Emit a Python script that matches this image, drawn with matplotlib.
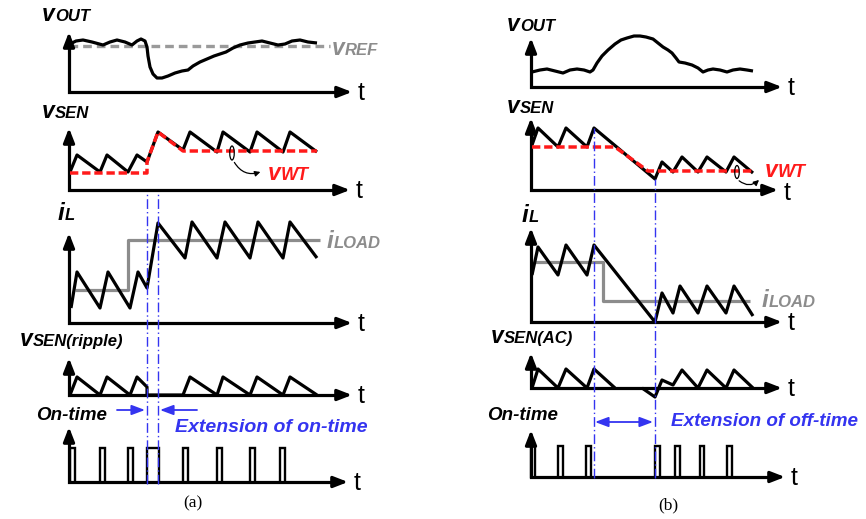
import numpy as np
import matplotlib
matplotlib.use('Agg')
import matplotlib.pyplot as plt
from matplotlib.transforms import Affine2D
from matplotlib.patches import Ellipse, FancyArrowPatch

# ---------------- data (time offset, amplitude) per panel ----------------
# (a) load step-up
a_vout_t = [1, 7, 14, 23, 34, 41, 48, 56, 63, 68, 72, 76, 78, 79, 81, 84, 88, 93, 99, 106,
            113, 119, 124, 131, 138, 145, 151, 157, 164, 171, 179, 186, 193, 201, 209, 216, 223, 231, 239, 248]
a_vout_v = [48, 51, 52, 50, 47, 50, 52, 50, 47, 51, 53, 51, 45, 36, 25, 18, 14, 14, 16, 19,
            21, 22, 26, 30, 33, 36, 38, 40, 44, 47, 49, 50, 51, 49, 47, 48, 51, 52, 50, 49]
a_vref_t = [0, 261]
a_vref_v = [46, 46]

a_vsen_t = [1, 8, 31, 38, 59, 68, 78, 89, 114, 121, 148, 154, 181, 188, 214, 221, 248]
a_vsen_v = [18, 35, 18, 35, 18, 35, 28, 58, 40, 58, 38, 58, 38, 58, 38, 58, 38]
a_vwt_t = [1, 78, 78, 89, 114, 248]
a_vwt_v = [17, 17, 28, 58, 39, 39]

a_iload_t = [6, 59, 59, 251]
a_iload_v = [33, 33, 83, 83]
a_il_t = [2, 8, 31, 39, 61, 69, 78, 89, 116, 123, 148, 156, 181, 189, 214, 221, 248]
a_il_v = [15, 51, 15, 51, 15, 51, 35, 100, 65, 101, 65, 101, 65, 101, 65, 101, 65]

a_rip_t = [1, 8, 31, 38, 61, 68, 78, 78, 114, 121, 148, 154, 181, 188, 214, 221, 248]
a_rip_v = [0, 18, 0, 18, 0, 18, 8, 0, 0, 18, 0, 18, 0, 18, 0, 18, 0]

a_on_start = [1, 31, 59, 78, 114, 148, 181, 211]
a_on_end = [6, 36, 64, 90, 119, 153, 186, 216]
a_on_h = 34
a_marks = [78, 89]

# (b) load step-down
b_vout_t = [1, 9, 16, 24, 32, 39, 46, 53, 59, 62, 66, 71, 77, 84, 90, 96, 103, 109, 115, 122,
            127, 132, 137, 141, 145, 148, 154, 161, 167, 172, 177, 182, 189, 196, 202, 209, 216, 222]
b_vout_v = [15, 17, 18, 16, 14, 17, 18, 17, 15, 17, 24, 31, 37, 43, 47, 49, 51, 51, 50, 48,
            44, 40, 37, 34, 29, 25, 24, 22, 19, 15, 17, 18, 17, 15, 17, 18, 17, 16]

b_vsen_t = [1, 7, 27, 35, 56, 63, 124, 131, 142, 151, 167, 176, 195, 203, 222]
b_vsen_v = [45, 62, 43, 62, 43, 62, 11, 28, 18, 33, 18, 33, 18, 33, 17]
b_vwt_t = [1, 84, 117, 222]
b_vwt_v = [43, 43, 19, 19]

b_iload_t = [4, 72, 72, 219]
b_iload_v = [60, 60, 21, 21]
b_il_t = [1, 7, 27, 35, 56, 63, 124, 131, 142, 149, 167, 176, 195, 203, 222]
b_il_v = [47, 75, 47, 77, 47, 77, 0, 29, 9, 36, 9, 36, 9, 36, 6]

b_ac1_t = [1, 7, 27, 35, 56, 63, 84]
b_ac1_v = [0, 19, 0, 19, 0, 19, 0]
b_ac2_t = [111, 124, 131, 142, 151, 167, 176, 195, 203, 222]
b_ac2_v = [0, -9, 8, 3, 18, 0, 18, 0, 18, 0]

b_on_start = [0, 27, 55, 124, 144, 169, 196]
b_on_end = [4, 32, 60, 129, 149, 173, 201]
b_on_h = 31
b_marks = [63, 124]

# ---------------- figure ----------------
W, H = 866, 519
fig = plt.figure(figsize=(W / 100, H / 100), dpi=100)
ax = fig.add_axes([0, 0, 1, 1])
ax.set_xlim(0, W)
ax.set_ylim(H, 0)
ax.axis('off')
R = fig.canvas.get_renderer()

FONT = 'Liberation Sans'
BLK = 'black'
GRAY = '#8c8c8c'
RED = '#ff1a1a'
BLUE = '#3434f0'
LW = 2.3


def ptr(x0, y0):
    return Affine2D().scale(1, -1).translate(x0, y0) + ax.transData


def axes_arrows(tr, L, Hh, t_dy=-1):
    ax.plot([0, 0, L - 9], [Hh - 9, 0, 0], color=BLK, lw=LW, transform=tr,
            solid_joinstyle='miter', solid_capstyle='butt', zorder=3)
    st = '-|>,head_length=0.85,head_width=0.33'
    ax.annotate('', xy=(0, Hh), xytext=(0, Hh - 11), xycoords=tr, textcoords=tr,
                arrowprops=dict(arrowstyle=st, lw=LW, color=BLK, shrinkA=0, shrinkB=0,
                                mutation_scale=10), zorder=3)
    ax.annotate('', xy=(L, 0), xytext=(L - 11, 0), xycoords=tr, textcoords=tr,
                arrowprops=dict(arrowstyle=st, lw=LW, color=BLK, shrinkA=0, shrinkB=0,
                                mutation_scale=10), zorder=3)
    ax.text(L + 6, t_dy, 't', transform=tr, fontsize=18, family=FONT, ha='left',
            va='center', color=BLK)


def sublabel(x, y, main, sub, color=BLK, s1=16.5, s2=12, dx=0.0):
    t1 = ax.text(x, y, main, fontsize=s1, fontweight='bold', fontstyle='italic',
                 color=color, ha='left', va='baseline', family=FONT, zorder=6)
    bb = t1.get_window_extent(renderer=R)
    x1 = ax.transData.inverted().transform((bb.x1, bb.y0))[0]
    ax.text(x1 + dx, y, sub, fontsize=s2, fontweight='bold', fontstyle='italic',
            color=color, ha='left', va='baseline', family=FONT, zorder=6)


def pulses(tr, starts, ends, h):
    for s, e in zip(starts, ends):
        ax.plot([s, s, e, e], [0, h, h, 0], color=BLK, lw=1.7, transform=tr,
                solid_joinstyle='miter', zorder=3)


def wave(tr, t, v, **kw):
    kw.setdefault('color', BLK)
    kw.setdefault('lw', LW)
    ax.plot(t, v, transform=tr, solid_joinstyle='round', solid_capstyle='butt', **kw)


dashdot = (0, (7, 2.2, 1, 2.2))

# ================= column (a) =================
ax0 = 69
A1 = ptr(ax0, 92)
A2 = ptr(ax0, 190)
A3 = ptr(ax0, 323)
A4 = ptr(ax0, 395)
A5 = ptr(ax0, 482)

ax.plot(a_vref_t, a_vref_v, transform=A1, color='#9a9a9a', lw=2.4,
        dashes=(2.6, 1.5), zorder=2)
wave(A1, a_vout_t, a_vout_v, zorder=3)
axes_arrows(A1, 283, 60)
sublabel(42, 21, 'v', 'OUT')
sublabel(332, 55, 'v', 'REF', color='#8c8c8c')

wave(A2, a_vsen_t, a_vsen_v, zorder=3)
ax.plot(a_vwt_t, a_vwt_v, transform=A2, color=RED, lw=2.5, dashes=(2.4, 1.1), zorder=4)
axes_arrows(A2, 281, 62)
sublabel(42, 118, 'v', 'SEN')
ax.add_patch(Ellipse((163, 37), 4.5, 14, transform=A2, fill=False, lw=0.9, ec=BLK, zorder=5))
ax.add_patch(FancyArrowPatch((164, 30), (194, 19), transform=A2,
                             connectionstyle='arc3,rad=0.45', arrowstyle='-|>',
                             mutation_scale=8, lw=0.9, color=BLK, zorder=5))
sublabel(268, 180, 'v', 'WT', color=RED, s2=13)

wave(A3, a_iload_t, a_iload_v, color=GRAY, zorder=2)
wave(A3, a_il_t, a_il_v, zorder=3)
axes_arrows(A3, 283, 90)
sublabel(58, 220, 'i', 'L', s1=17.5)
sublabel(327, 248, 'i', 'LOAD', color=GRAY, s1=17.5)

wave(A4, a_rip_t, a_rip_v, zorder=3)
axes_arrows(A4, 283, 37)
sublabel(20, 346, 'v', 'SEN(ripple)')

pulses(A5, a_on_start, a_on_end, a_on_h)
axes_arrows(A5, 279, 55)
ax.text(36, 420, 'On-time', fontsize=13.5, fontweight='bold', fontstyle='italic',
        family=FONT, ha='left', va='baseline', color=BLK)

for m in a_marks:
    ax.plot([m, m], [-2, 289], transform=A5, color=BLUE, lw=1.0,
            linestyle=dashdot, zorder=6)
ax.annotate('', xy=(76, 72), xytext=(48, 72), xycoords=A5, textcoords=A5,
            arrowprops=dict(arrowstyle='-|>,head_length=0.8,head_width=0.3', lw=1.3,
                            color=BLUE, shrinkA=0, shrinkB=0, mutation_scale=10))
ax.annotate('', xy=(91, 72), xytext=(128, 72), xycoords=A5, textcoords=A5,
            arrowprops=dict(arrowstyle='-|>,head_length=0.8,head_width=0.3', lw=1.3,
                            color=BLUE, shrinkA=0, shrinkB=0, mutation_scale=10))
ax.text(175, 432, 'Extension of on-time', fontsize=14, fontweight='bold',
        fontstyle='italic', family=FONT, color=BLUE, ha='left', va='baseline')
ax.text(193, 503, '(a)', fontsize=12.5, family='Liberation Serif', ha='center',
        va='center', color=BLK)

# ================= column (b) =================
bx0 = 531
B1 = ptr(bx0, 87)
B2 = ptr(bx0, 190)
B3 = ptr(bx0, 322)
B4 = ptr(bx0, 388)
B5 = ptr(bx0, 477)

wave(B1, b_vout_t, b_vout_v, zorder=3)
axes_arrows(B1, 251, 49)
sublabel(507, 31, 'v', 'OUT')

wave(B2, b_vsen_t, b_vsen_v, zorder=3)
ax.plot(b_vwt_t, b_vwt_v, transform=B2, color=RED, lw=2.5, dashes=(2.4, 1.1), zorder=4)
axes_arrows(B2, 247, 72, t_dy=-3)
sublabel(507, 113, 'v', 'SEN')
ax.add_patch(Ellipse((206, 18), 4.5, 13, transform=B2, fill=False, lw=0.9, ec=BLK, zorder=5))
ax.add_patch(FancyArrowPatch((206, 11), (230, 12), transform=B2,
                             connectionstyle='arc3,rad=0.5', arrowstyle='-|>',
                             mutation_scale=8, lw=0.9, color=BLK, zorder=5))
sublabel(765, 177, 'v', 'WT', color=RED, s2=13)

wave(B3, b_iload_t, b_iload_v, color=GRAY, zorder=2)
wave(B3, b_il_t, b_il_v, zorder=3)
axes_arrows(B3, 251, 94)
sublabel(522, 222, 'i', 'L', s1=17.5)
sublabel(762, 307, 'i', 'LOAD', color=GRAY, s1=17.5)

wave(B4, b_ac1_t, b_ac1_v, zorder=3)
wave(B4, b_ac2_t, b_ac2_v, zorder=3)
axes_arrows(B4, 251, 35)
sublabel(491, 343, 'v', 'SEN(AC)')

pulses(B5, b_on_start, b_on_end, b_on_h)
axes_arrows(B5, 254, 47)
ax.text(487, 420, 'On-time', fontsize=13.5, fontweight='bold', fontstyle='italic',
        family=FONT, ha='left', va='baseline', color=BLK)

b_tops = [349, 298]
for m, top in zip(b_marks, b_tops):
    ax.plot([m, m], [-1, top], transform=B5, color=BLUE, lw=1.0,
            linestyle=dashdot, zorder=6)
ax.annotate('', xy=(122, 55), xytext=(64, 55), xycoords=B5, textcoords=B5,
            arrowprops=dict(arrowstyle='<|-|>,head_length=0.8,head_width=0.3', lw=1.3,
                            color=BLUE, shrinkA=0, shrinkB=0, mutation_scale=10))
ax.text(671, 426, 'Extension of off-time', fontsize=13.6, fontweight='bold',
        fontstyle='italic', family=FONT, color=BLUE, ha='left', va='baseline')
ax.text(668, 505, '(b)', fontsize=12.5, family='Liberation Serif', ha='center',
        va='center', color=BLK)

fig.savefig('out.png', dpi=100, facecolor='white')
